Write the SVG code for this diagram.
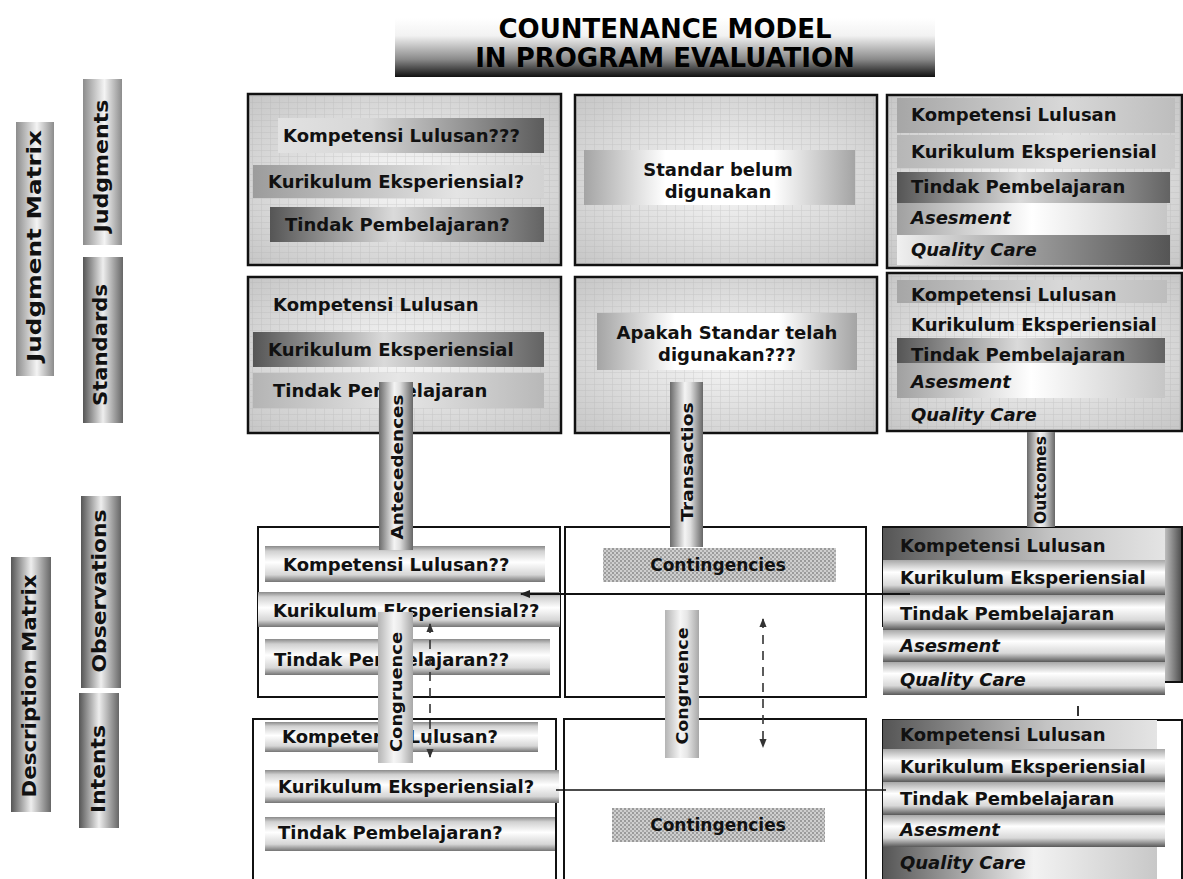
<svg xmlns="http://www.w3.org/2000/svg" width="1183" height="879" viewBox="0 0 1183 879">
<defs>
<style>
.t{font-family:"DejaVu Sans",Verdana,"Liberation Sans",sans-serif;font-weight:bold;font-size:18px;fill:#111}
.i{font-style:italic}
.m{text-anchor:middle}
.c17{font-size:17px}
.tt{font-family:"DejaVu Sans",Verdana,"Liberation Sans",sans-serif;font-weight:bold;font-size:26px;fill:#000;text-anchor:middle}
.lbl{font-family:"DejaVu Sans",Verdana,"Liberation Sans",sans-serif;font-weight:bold;font-size:20px;fill:#111;text-anchor:middle}
.pl{font-family:"DejaVu Sans",Verdana,"Liberation Sans",sans-serif;font-weight:bold;font-size:16px;fill:#111;text-anchor:middle}
.box{fill:#fff;stroke:#111;stroke-width:2}
.tex{fill:url(#gBg);stroke:#111;stroke-width:2.5}
.grain{fill:url(#pGrain);stroke:none}
.ln{stroke:#111;stroke-width:2;fill:none}
.dash{stroke:#333;stroke-width:1.6;stroke-dasharray:9 7;fill:none}
</style>
<linearGradient id="gTitle" x1="0" y1="0" x2="0" y2="1"><stop offset="0" stop-color="#ffffff"/><stop offset="0.3" stop-color="#f2f2f2"/><stop offset="0.7" stop-color="#8a8a8a"/><stop offset="1" stop-color="#111111"/></linearGradient>
<linearGradient id="gLbl" x1="0" y1="0" x2="1" y2="0"><stop offset="0" stop-color="#8c8c8c"/><stop offset="0.55" stop-color="#f4f4f4"/><stop offset="1" stop-color="#8c8c8c"/></linearGradient>
<linearGradient id="gLblD" x1="0" y1="0" x2="1" y2="0"><stop offset="0" stop-color="#555"/><stop offset="0.5" stop-color="#eeeeee"/><stop offset="1" stop-color="#666"/></linearGradient>
<radialGradient id="gBg" cx="0.5" cy="0.5" r="0.7"><stop offset="0" stop-color="#f8f8f8"/><stop offset="1" stop-color="#c6c6c6"/></radialGradient>
<pattern id="pGrain" width="9" height="6" patternUnits="userSpaceOnUse"><path d="M0 0.5H9M0.5 0V6" stroke="#a8a8a8" stroke-width="0.6" opacity="0.35"/></pattern>
<pattern id="pDots" width="4" height="4" patternUnits="userSpaceOnUse"><rect width="4" height="4" fill="#cfcfcf"/><rect width="2" height="2" fill="#9a9a9a"/><rect x="2" y="2" width="2" height="2" fill="#a8a8a8"/></pattern>
<linearGradient id="gL2D" x1="0" y1="0" x2="1" y2="0"><stop offset="0" stop-color="#e2e2e2"/><stop offset="0.35" stop-color="#d6d6d6"/><stop offset="1" stop-color="#5c5c5c"/></linearGradient>
<linearGradient id="gGrayR" x1="0" y1="0" x2="1" y2="0"><stop offset="0" stop-color="#9c9c9c"/><stop offset="0.7" stop-color="#e4e4e4"/><stop offset="1" stop-color="#d2d2d2"/></linearGradient>
<linearGradient id="gDarkMid" x1="0" y1="0" x2="1" y2="0"><stop offset="0" stop-color="#555"/><stop offset="0.45" stop-color="#dadada"/><stop offset="1" stop-color="#636363"/></linearGradient>
<linearGradient id="gSoftMid" x1="0" y1="0" x2="1" y2="0"><stop offset="0" stop-color="#b4b4b4"/><stop offset="0.5" stop-color="#e6e6e6"/><stop offset="1" stop-color="#b8b8b8"/></linearGradient>
<linearGradient id="gCW" x1="0" y1="0" x2="1" y2="0"><stop offset="0" stop-color="#a4a4a4"/><stop offset="0.3" stop-color="#ffffff"/><stop offset="0.7" stop-color="#ffffff"/><stop offset="1" stop-color="#a4a4a4"/></linearGradient>
<linearGradient id="gGrayA" x1="0" y1="0" x2="1" y2="0"><stop offset="0" stop-color="#a6a6a6"/><stop offset="0.6" stop-color="#d8d8d8"/><stop offset="1" stop-color="#bdbdbd"/></linearGradient>
<linearGradient id="gGrayB" x1="0" y1="0" x2="1" y2="0"><stop offset="0" stop-color="#b6b6b6"/><stop offset="0.6" stop-color="#e2e2e2"/><stop offset="1" stop-color="#cacaca"/></linearGradient>
<linearGradient id="gAses" x1="0" y1="0" x2="1" y2="0"><stop offset="0" stop-color="#a0a0a0"/><stop offset="0.5" stop-color="#ffffff"/><stop offset="1" stop-color="#c6c6c6"/></linearGradient>
<linearGradient id="gQC" x1="0" y1="0" x2="1" y2="0"><stop offset="0" stop-color="#f0f0f0"/><stop offset="0.5" stop-color="#9a9a9a"/><stop offset="1" stop-color="#555"/></linearGradient>
<linearGradient id="gQC2" x1="0" y1="0" x2="1" y2="0"><stop offset="0" stop-color="#555"/><stop offset="0.55" stop-color="#f2f2f2"/><stop offset="1" stop-color="#c8c8c8"/></linearGradient>
<linearGradient id="gD2L" x1="0" y1="0" x2="1" y2="0"><stop offset="0" stop-color="#555"/><stop offset="0.6" stop-color="#c4c4c4"/><stop offset="1" stop-color="#e4e4e4"/></linearGradient>
<linearGradient id="gCylV" x1="0" y1="0" x2="0" y2="1"><stop offset="0" stop-color="#8a8a8a"/><stop offset="0.14" stop-color="#d0d0d0"/><stop offset="0.45" stop-color="#ffffff"/><stop offset="0.8" stop-color="#d6d6d6"/><stop offset="1" stop-color="#747474"/></linearGradient>
<linearGradient id="gCylV2" x1="0" y1="0" x2="0" y2="1"><stop offset="0" stop-color="#a8a8a8"/><stop offset="0.35" stop-color="#ffffff"/><stop offset="0.72" stop-color="#d8d8d8"/><stop offset="1" stop-color="#585858"/></linearGradient>
<linearGradient id="gSide" x1="0" y1="0" x2="1" y2="0"><stop offset="0" stop-color="#f2f2f2"/><stop offset="1" stop-color="#4a4a4a"/></linearGradient>
<linearGradient id="gPipe" x1="0" y1="0" x2="1" y2="0"><stop offset="0" stop-color="#6a6a6a"/><stop offset="0.45" stop-color="#f4f4f4"/><stop offset="0.62" stop-color="#dedede"/><stop offset="1" stop-color="#666"/></linearGradient>
<linearGradient id="gPipeL" x1="0" y1="0" x2="1" y2="0"><stop offset="0" stop-color="#b4b4b4"/><stop offset="0.45" stop-color="#f6f6f6"/><stop offset="0.65" stop-color="#e6e6e6"/><stop offset="1" stop-color="#a8a8a8"/></linearGradient>
<marker id="ah" viewBox="0 0 10 8" refX="9" refY="4" markerWidth="10" markerHeight="8" markerUnits="userSpaceOnUse" orient="auto-start-reverse"><path d="M0 0L10 4L0 8z" fill="#222"/></marker>
<marker id="ahs" viewBox="0 0 10 8" refX="9" refY="4" markerWidth="9" markerHeight="8" markerUnits="userSpaceOnUse" orient="auto-start-reverse"><path d="M0 0L10 4L0 8z" fill="#333"/></marker>
</defs>

<rect width="1183" height="879" fill="#fff"/>

<g id="title">
<rect x="395" y="18" width="540" height="59" fill="url(#gTitle)"/>
<text class="tt" x="665" y="38">COUNTENANCE MODEL</text>
<text class="tt" x="665" y="67">IN PROGRAM EVALUATION</text>
</g>

<g id="lbl-judgment-matrix">
<rect x="16" y="122" width="38" height="254" fill="url(#gLbl)"/>
<text class="lbl" transform="translate(36,246) rotate(-90)" y="5" textLength="232" lengthAdjust="spacingAndGlyphs">Judgment Matrix</text>
</g>
<g id="lbl-judgments">
<rect x="83" y="79" width="39" height="166" fill="url(#gLbl)"/>
<text class="lbl" transform="translate(103,166) rotate(-90)" y="5" textLength="133" lengthAdjust="spacingAndGlyphs">Judgments</text>
</g>
<g id="lbl-standards">
<rect x="83" y="257" width="40" height="166" fill="url(#gLblD)"/>
<text class="lbl" transform="translate(102,345) rotate(-90)" y="5" textLength="122" lengthAdjust="spacingAndGlyphs">Standards</text>
</g>
<g id="lbl-description-matrix">
<rect x="11" y="557" width="40" height="255" fill="url(#gLblD)"/>
<text class="lbl" transform="translate(31,686) rotate(-90)" y="5" textLength="223" lengthAdjust="spacingAndGlyphs">Description Matrix</text>
</g>
<g id="lbl-observations">
<rect x="81" y="496" width="40" height="192" fill="url(#gLblD)"/>
<text class="lbl" transform="translate(101,591) rotate(-90)" y="5" textLength="163" lengthAdjust="spacingAndGlyphs">Observations</text>
</g>
<g id="lbl-intents">
<rect x="79" y="693" width="40" height="135" fill="url(#gLblD)"/>
<text class="lbl" transform="translate(100,769) rotate(-90)" y="5" textLength="88" lengthAdjust="spacingAndGlyphs">Intents</text>
</g>

<g id="box-judgments-antecedents">
<rect class="tex" x="248" y="94" width="313" height="171"/>
<rect class="grain" x="249" y="95" width="311" height="169"/>
<rect x="278" y="118" width="266" height="35" fill="url(#gL2D)"/>
<rect x="253" y="165" width="291" height="33" fill="url(#gGrayR)"/>
<rect x="270" y="207" width="274" height="35" fill="url(#gDarkMid)"/>
<text class="t" x="283" y="142">Kompetensi Lulusan???</text>
<text class="t" x="268" y="188">Kurikulum Eksperiensial?</text>
<text class="t" x="285" y="231">Tindak Pembelajaran?</text>
</g>

<g id="box-standards-antecedents">
<rect class="tex" x="248" y="277" width="313" height="156"/>
<rect class="grain" x="249" y="278" width="311" height="154"/>
<rect x="253" y="332" width="291" height="35" fill="url(#gDarkMid)"/>
<rect x="253" y="373" width="291" height="35" fill="url(#gSoftMid)"/>
<text class="t" x="273" y="311">Kompetensi Lulusan</text>
<text class="t" x="268" y="356">Kurikulum Eksperiensial</text>
<text class="t" x="273" y="397">Tindak Pembelajaran</text>
</g>

<g id="box-judgments-transactions">
<rect class="tex" x="575" y="95" width="302" height="170"/>
<rect class="grain" x="576" y="96" width="300" height="168"/>
<rect x="584" y="150" width="271" height="55" fill="url(#gCW)"/>
<text class="t m" x="718" y="176">Standar belum</text>
<text class="t m" x="718" y="198">digunakan</text>
</g>

<g id="box-standards-transactions">
<rect class="tex" x="575" y="277" width="302" height="156"/>
<rect class="grain" x="576" y="278" width="300" height="154"/>
<rect x="597" y="313" width="260" height="57" fill="url(#gCW)"/>
<text class="t m" x="727" y="339">Apakah Standar telah</text>
<text class="t m" x="727" y="361">digunakan???</text>
</g>

<g id="box-judgments-outcomes">
<rect class="tex" x="887" y="95" width="295" height="173"/>
<rect class="grain" x="888" y="96" width="293" height="171"/>
<rect x="897" y="98" width="278" height="35" fill="url(#gGrayA)"/>
<rect x="897" y="135" width="278" height="33" fill="url(#gGrayB)"/>
<rect x="897" y="172" width="273" height="31" fill="url(#gDarkMid)"/>
<rect x="897" y="203" width="270" height="32" fill="url(#gAses)"/>
<rect x="897" y="235" width="273" height="30" fill="url(#gQC)"/>
<text class="t" x="911" y="121">Kompetensi Lulusan</text>
<text class="t" x="911" y="158">Kurikulum Eksperiensial</text>
<text class="t" x="911" y="193">Tindak Pembelajaran</text>
<text class="t i" x="911" y="224">Asesment</text>
<text class="t i" x="911" y="256">Quality Care</text>
</g>

<g id="box-standards-outcomes">
<rect class="tex" x="887" y="273" width="295" height="158"/>
<rect class="grain" x="888" y="274" width="293" height="156"/>
<rect x="897" y="280" width="270" height="23" fill="url(#gGrayA)"/>
<rect x="897" y="338" width="268" height="25" fill="url(#gDarkMid)"/>
<rect x="897" y="363" width="268" height="35" fill="url(#gAses)"/>
<text class="t" x="911" y="301">Kompetensi Lulusan</text>
<text class="t" x="911" y="331">Kurikulum Eksperiensial</text>
<text class="t" x="911" y="361">Tindak Pembelajaran</text>
<text class="t i" x="911" y="388">Asesment</text>
<text class="t i" x="911" y="421">Quality Care</text>
</g>

<g id="box-observations-antecedents">
<rect class="box" x="258" y="527" width="302" height="170"/>
<rect x="265" y="546" width="280" height="36" fill="url(#gCylV)"/>
<rect x="258" y="592" width="302" height="35" fill="url(#gCylV)"/>
<rect x="265" y="639" width="285" height="36" fill="url(#gCylV)"/>
<text class="t" x="283" y="571">Kompetensi Lulusan??</text>
<text class="t" x="273" y="617">Kurikulum Eksperiensial??</text>
<text class="t" x="274" y="666">Tindak Pembelajaran??</text>
</g>

<g id="box-observations-transactions">
<rect class="box" x="565" y="527" width="301" height="170"/>
<rect x="603" y="548" width="233" height="34" fill="url(#pDots)"/>
<text class="t m c17" x="718" y="571">Contingencies</text>
</g>

<g id="box-observations-outcomes">
<rect x="1157" y="527" width="25" height="155" fill="url(#gSide)"/>
<path class="ln" d="M883 627V527H1182V682H1157"/>
<rect x="883" y="528" width="282" height="32" fill="url(#gD2L)"/>
<rect x="883" y="560" width="282" height="35" fill="url(#gCylV2)"/>
<rect x="883" y="595" width="282" height="35" fill="url(#gCylV2)"/>
<rect x="883" y="630" width="282" height="32" fill="url(#gCylV2)"/>
<rect x="883" y="662" width="282" height="33" fill="url(#gCylV2)"/>
<text class="t" x="900" y="552">Kompetensi Lulusan</text>
<text class="t" x="900" y="584">Kurikulum Eksperiensial</text>
<text class="t" x="900" y="620">Tindak Pembelajaran</text>
<text class="t i" x="900" y="652">Asesment</text>
<text class="t i" x="900" y="686">Quality Care</text>
</g>

<g id="box-intents-antecedents">
<rect class="box" x="253" y="719" width="303" height="175"/>
<rect x="265" y="722" width="273" height="30" fill="url(#gCylV)"/>
<rect x="265" y="770" width="294" height="33" fill="url(#gCylV)"/>
<rect x="265" y="817" width="290" height="34" fill="url(#gCylV)"/>
<text class="t" x="282" y="743">Kompetensi Lulusan?</text>
<text class="t" x="278" y="793">Kurikulum Eksperiensial?</text>
<text class="t" x="278" y="839">Tindak Pembelajaran?</text>
</g>

<g id="box-intents-transactions">
<rect class="box" x="564" y="719" width="302" height="175"/>
<rect x="612" y="808" width="213" height="34" fill="url(#pDots)"/>
<text class="t m c17" x="718" y="831">Contingencies</text>
</g>

<g id="box-intents-outcomes">
<rect class="box" x="883" y="720" width="299" height="175"/>
<rect x="883" y="720" width="274" height="29" fill="url(#gD2L)"/>
<rect x="883" y="749" width="282" height="33" fill="url(#gCylV2)"/>
<rect x="883" y="782" width="282" height="33" fill="url(#gCylV2)"/>
<rect x="883" y="815" width="282" height="32" fill="url(#gCylV2)"/>
<rect x="883" y="847" width="274" height="34" fill="url(#gQC2)"/>
<text class="t" x="900" y="741">Kompetensi Lulusan</text>
<text class="t" x="900" y="773">Kurikulum Eksperiensial</text>
<text class="t" x="900" y="805">Tindak Pembelajaran</text>
<text class="t i" x="900" y="836">Asesment</text>
<text class="t i" x="900" y="869">Quality Care</text>
</g>

<g id="connectors">
<line class="ln" x1="910" y1="594" x2="521" y2="594" marker-end="url(#ah)"/>
<line class="ln" x1="556" y1="790" x2="886" y2="790" style="stroke-width:1.6"/>
<line class="dash" x1="430" y1="624" x2="430" y2="757" marker-start="url(#ahs)" marker-end="url(#ahs)"/>
<line class="dash" x1="763" y1="619" x2="763" y2="747" marker-start="url(#ahs)" marker-end="url(#ahs)"/>
<line x1="1078" y1="706" x2="1078" y2="716" stroke="#333" stroke-width="2"/>
<g id="pipe-antecedences">
<rect x="379" y="382" width="34" height="168" fill="url(#gPipe)"/>
<text class="pl" transform="translate(397,467) rotate(-90)" y="6" textLength="145" lengthAdjust="spacingAndGlyphs">Antecedences</text>
</g>
<g id="pipe-transactios">
<rect x="670" y="382" width="33" height="165" fill="url(#gPipe)"/>
<text class="pl" transform="translate(687,462) rotate(-90)" y="6" textLength="119" lengthAdjust="spacingAndGlyphs">Transactios</text>
</g>
<g id="pipe-outcomes">
<rect x="1027" y="432" width="28" height="95" fill="url(#gPipe)"/>
<text class="pl" transform="translate(1041,480) rotate(-90)" y="5" style="font-size:15px" textLength="88" lengthAdjust="spacingAndGlyphs">Outcomes</text>
</g>
<g id="pipe-congruence-1">
<rect x="378" y="612" width="35" height="151" fill="url(#gPipeL)"/>
<text class="pl" transform="translate(396,692) rotate(-90)" y="6" textLength="120" lengthAdjust="spacingAndGlyphs">Congruence</text>
</g>
<g id="pipe-congruence-2">
<rect x="665" y="610" width="34" height="148" fill="url(#gPipeL)"/>
<text class="pl" transform="translate(682,686) rotate(-90)" y="6" textLength="117" lengthAdjust="spacingAndGlyphs">Congruence</text>
</g>
</g>
</svg>
